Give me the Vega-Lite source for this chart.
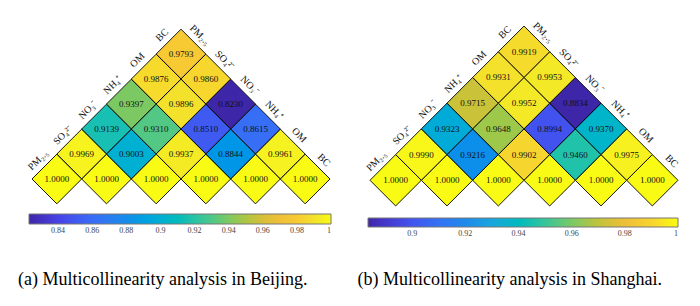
{
  "$schema": "https://vega.github.io/schema/vega-lite/v6.json",
  "padding": {"left": 18, "top": 20, "right": 0, "bottom": 0},
  "config": {"view": {"stroke": null}, "font": "Liberation Serif"},
  "datasets": {
    "corr": [
      {"city": "Beijing", "v1": "PM2.5", "v2": "PM2.5", "r": 1.0},
      {"city": "Beijing", "v1": "SO4", "v2": "SO4", "r": 1.0},
      {"city": "Beijing", "v1": "NO3", "v2": "NO3", "r": 1.0},
      {"city": "Beijing", "v1": "NH4", "v2": "NH4", "r": 1.0},
      {"city": "Beijing", "v1": "OM", "v2": "OM", "r": 1.0},
      {"city": "Beijing", "v1": "BC", "v2": "BC", "r": 1.0},
      {"city": "Beijing", "v1": "PM2.5", "v2": "SO4", "r": 0.9969},
      {"city": "Beijing", "v1": "SO4", "v2": "NO3", "r": 0.9003},
      {"city": "Beijing", "v1": "NO3", "v2": "NH4", "r": 0.9937},
      {"city": "Beijing", "v1": "NH4", "v2": "OM", "r": 0.8844},
      {"city": "Beijing", "v1": "OM", "v2": "BC", "r": 0.9961},
      {"city": "Beijing", "v1": "PM2.5", "v2": "NO3", "r": 0.9139},
      {"city": "Beijing", "v1": "SO4", "v2": "NH4", "r": 0.9310},
      {"city": "Beijing", "v1": "NO3", "v2": "OM", "r": 0.8510},
      {"city": "Beijing", "v1": "NH4", "v2": "BC", "r": 0.8615},
      {"city": "Beijing", "v1": "PM2.5", "v2": "NH4", "r": 0.9397},
      {"city": "Beijing", "v1": "SO4", "v2": "OM", "r": 0.9896},
      {"city": "Beijing", "v1": "NO3", "v2": "BC", "r": 0.8230},
      {"city": "Beijing", "v1": "PM2.5", "v2": "OM", "r": 0.9876},
      {"city": "Beijing", "v1": "SO4", "v2": "BC", "r": 0.9860},
      {"city": "Beijing", "v1": "PM2.5", "v2": "BC", "r": 0.9793},
      {"city": "Shanghai", "v1": "PM2.5", "v2": "PM2.5", "r": 1.0},
      {"city": "Shanghai", "v1": "SO4", "v2": "SO4", "r": 1.0},
      {"city": "Shanghai", "v1": "NO3", "v2": "NO3", "r": 1.0},
      {"city": "Shanghai", "v1": "NH4", "v2": "NH4", "r": 1.0},
      {"city": "Shanghai", "v1": "OM", "v2": "OM", "r": 1.0},
      {"city": "Shanghai", "v1": "BC", "v2": "BC", "r": 1.0},
      {"city": "Shanghai", "v1": "PM2.5", "v2": "SO4", "r": 0.9990},
      {"city": "Shanghai", "v1": "SO4", "v2": "NO3", "r": 0.9216},
      {"city": "Shanghai", "v1": "NO3", "v2": "NH4", "r": 0.9902},
      {"city": "Shanghai", "v1": "NH4", "v2": "OM", "r": 0.9460},
      {"city": "Shanghai", "v1": "OM", "v2": "BC", "r": 0.9975},
      {"city": "Shanghai", "v1": "PM2.5", "v2": "NO3", "r": 0.9323},
      {"city": "Shanghai", "v1": "SO4", "v2": "NH4", "r": 0.9648},
      {"city": "Shanghai", "v1": "NO3", "v2": "OM", "r": 0.8994},
      {"city": "Shanghai", "v1": "NH4", "v2": "BC", "r": 0.9370},
      {"city": "Shanghai", "v1": "PM2.5", "v2": "NH4", "r": 0.9715},
      {"city": "Shanghai", "v1": "SO4", "v2": "OM", "r": 0.9952},
      {"city": "Shanghai", "v1": "NO3", "v2": "BC", "r": 0.8834},
      {"city": "Shanghai", "v1": "PM2.5", "v2": "OM", "r": 0.9931},
      {"city": "Shanghai", "v1": "SO4", "v2": "BC", "r": 0.9953},
      {"city": "Shanghai", "v1": "PM2.5", "v2": "BC", "r": 0.9919}
    ],
    "vars": [
      {"k": 0, "name": "PM₂.₅"},
      {"k": 1, "name": "SO₄²⁻"},
      {"k": 2, "name": "NO₃⁻"},
      {"k": 3, "name": "NH₄⁺"},
      {"k": 4, "name": "OM"},
      {"k": 5, "name": "BC"}
    ]
  },
  "hconcat": [
    {
      "width": 298,
      "height": 178,
      "title": {"text": "(a) Multicollinearity analysis in Beijing.", "orient": "bottom", "anchor": "start", "dx": -8, "offset": 36, "font": "Liberation Serif", "fontSize": 18, "fontWeight": "normal", "color": "#000"},
      "layer": [
        {
          "data": {"name": "corr"},
          "transform": [
            {"filter": "datum.city === 'Beijing'"},
            {"calculate": "indexof(['PM2.5','SO4','NO3','NH4','OM','BC'], datum.v1)", "as": "i"},
            {"calculate": "indexof(['PM2.5','SO4','NO3','NH4','OM','BC'], datum.v2)", "as": "j"},
            {"calculate": "(datum.i + datum.j) / 2", "as": "px"},
            {"calculate": "datum.j - datum.i", "as": "py"}
          ],
          "layer": [
            {
              "mark": {"type": "point", "shape": "diamond", "filled": true, "size": 2467, "stroke": "#000", "strokeWidth": 0.9, "opacity": 1, "strokeOpacity": 1, "fillOpacity": 1},
              "encoding": {
                "x": {"field": "px", "type": "quantitative", "scale": {"domain": [-0.5, 5.5]}, "axis": null},
                "y": {"field": "py", "type": "quantitative", "scale": {"domain": [-1, 6.12]}, "axis": null},
                "color": {
                  "field": "r", "type": "quantitative",
                  "scale": {
                    "domain": [0.823, 0.8407, 0.8584, 0.8761, 0.8938, 0.9115, 0.9292, 0.9469, 0.9646, 0.9823, 0.99115, 1.0],
                    "range": ["#3e26a8", "#4743e8", "#3d69f6", "#2c85ec", "#18a6dd", "#18bdb8", "#4bc78b", "#a0c848", "#eaba3a", "#f9cd32", "#f2e52a", "#f9fb14"]
                  },
                  "legend": {"orient": "none", "legendX": -3, "legendY": 188, "direction": "horizontal", "gradientLength": 302, "gradientThickness": 10, "title": null, "values": [0.84, 0.86, 0.88, 0.9, 0.92, 0.94, 0.96, 0.98, 1], "format": ".2~f", "labelFont": "Liberation Serif", "labelFontSize": 8, "labelColor": "#444", "labelAlign": "center", "labelOffset": 3, "gradientStrokeColor": "#777", "gradientStrokeWidth": 1, "padding": 0}
                }
              }
            },
            {
              "mark": {"type": "text", "font": "Liberation Serif", "fontSize": 9, "color": "#111"},
              "encoding": {
                "x": {"field": "px", "type": "quantitative", "scale": {"domain": [-0.5, 5.5]}, "axis": null},
                "y": {"field": "py", "type": "quantitative", "scale": {"domain": [-1, 6.12]}, "axis": null},
                "text": {"field": "r", "type": "quantitative", "format": ".4f"}
              }
            }
          ]
        },
        {
          "data": {"name": "vars"},
          "transform": [
            {"calculate": "datum.k / 2 - 0.25", "as": "lx"},
            {"calculate": "datum.k + 0.5", "as": "ly"}
          ],
          "mark": {"type": "text", "angle": -45, "align": "center", "baseline": "middle", "dy": -9, "font": "Liberation Serif", "fontSize": 10, "color": "#111"},
          "encoding": {
            "x": {"field": "lx", "type": "quantitative", "scale": {"domain": [-0.5, 5.5]}, "axis": null},
            "y": {"field": "ly", "type": "quantitative", "scale": {"domain": [-1, 6.12]}, "axis": null},
            "text": {"field": "name", "type": "nominal"}
          }
        },
        {
          "data": {"name": "vars"},
          "transform": [
            {"calculate": "(datum.k + 5) / 2 + 0.25", "as": "rx"},
            {"calculate": "5 - datum.k + 0.5", "as": "ry"}
          ],
          "mark": {"type": "text", "angle": 45, "align": "center", "baseline": "middle", "dy": -9, "font": "Liberation Serif", "fontSize": 10, "color": "#111"},
          "encoding": {
            "x": {"field": "rx", "type": "quantitative", "scale": {"domain": [-0.5, 5.5]}, "axis": null},
            "y": {"field": "ry", "type": "quantitative", "scale": {"domain": [-1, 6.12]}, "axis": null},
            "text": {"field": "name", "type": "nominal"}
          }
        }
      ]
    },
    {
      "width": 308,
      "height": 180,
      "title": {"text": "(b) Multicollinearity analysis in Shanghai.", "orient": "bottom", "anchor": "start", "dx": -7, "offset": 33, "font": "Liberation Serif", "fontSize": 18, "fontWeight": "normal", "color": "#000"},
      "layer": [
        {
          "data": {"name": "corr"},
          "transform": [
            {"filter": "datum.city === 'Shanghai'"},
            {"calculate": "indexof(['PM2.5','SO4','NO3','NH4','OM','BC'], datum.v1)", "as": "i"},
            {"calculate": "indexof(['PM2.5','SO4','NO3','NH4','OM','BC'], datum.v2)", "as": "j"},
            {"calculate": "(datum.i + datum.j) / 2", "as": "px"},
            {"calculate": "datum.j - datum.i", "as": "py"}
          ],
          "layer": [
            {
              "mark": {"type": "point", "shape": "diamond", "filled": true, "size": 2635, "stroke": "#000", "strokeWidth": 0.9, "opacity": 1, "strokeOpacity": 1, "fillOpacity": 1},
              "encoding": {
                "x": {"field": "px", "type": "quantitative", "scale": {"domain": [-0.5, 5.5]}, "axis": null},
                "y": {"field": "py", "type": "quantitative", "scale": {"domain": [-1, 6]}, "axis": null},
                "color": {
                  "field": "r", "type": "quantitative",
                  "scale": {
                    "domain": [0.8834, 0.89506, 0.90672, 0.91838, 0.93004, 0.9417, 0.95336, 0.96502, 0.97668, 0.98834, 0.99417, 1.0],
                    "range": ["#3e26a8", "#4743e8", "#3d69f6", "#2c85ec", "#18a6dd", "#18bdb8", "#4bc78b", "#a0c848", "#eaba3a", "#f9cd32", "#f2e52a", "#f9fb14"]
                  },
                  "legend": {"orient": "none", "legendX": -2, "legendY": 192, "direction": "horizontal", "gradientLength": 310, "gradientThickness": 9, "title": null, "values": [0.9, 0.92, 0.94, 0.96, 0.98, 1], "format": ".2~f", "labelFont": "Liberation Serif", "labelFontSize": 8, "labelColor": "#444", "labelAlign": "center", "labelOffset": 3, "gradientStrokeColor": "#777", "gradientStrokeWidth": 1, "padding": 0}
                }
              }
            },
            {
              "mark": {"type": "text", "font": "Liberation Serif", "fontSize": 9, "color": "#111"},
              "encoding": {
                "x": {"field": "px", "type": "quantitative", "scale": {"domain": [-0.5, 5.5]}, "axis": null},
                "y": {"field": "py", "type": "quantitative", "scale": {"domain": [-1, 6]}, "axis": null},
                "text": {"field": "r", "type": "quantitative", "format": ".4f"}
              }
            }
          ]
        },
        {
          "data": {"name": "vars"},
          "transform": [
            {"calculate": "datum.k / 2 - 0.25", "as": "lx"},
            {"calculate": "datum.k + 0.5", "as": "ly"}
          ],
          "mark": {"type": "text", "angle": -45, "align": "center", "baseline": "middle", "dy": -9, "font": "Liberation Serif", "fontSize": 10, "color": "#111"},
          "encoding": {
            "x": {"field": "lx", "type": "quantitative", "scale": {"domain": [-0.5, 5.5]}, "axis": null},
            "y": {"field": "ly", "type": "quantitative", "scale": {"domain": [-1, 6]}, "axis": null},
            "text": {"field": "name", "type": "nominal"}
          }
        },
        {
          "data": {"name": "vars"},
          "transform": [
            {"calculate": "(datum.k + 5) / 2 + 0.25", "as": "rx"},
            {"calculate": "5 - datum.k + 0.5", "as": "ry"}
          ],
          "mark": {"type": "text", "angle": 45, "align": "center", "baseline": "middle", "dy": -9, "font": "Liberation Serif", "fontSize": 10, "color": "#111"},
          "encoding": {
            "x": {"field": "rx", "type": "quantitative", "scale": {"domain": [-0.5, 5.5]}, "axis": null},
            "y": {"field": "ry", "type": "quantitative", "scale": {"domain": [-1, 6]}, "axis": null},
            "text": {"field": "name", "type": "nominal"}
          }
        }
      ]
    }
  ],
  "spacing": 40,
  "bounds": "flush",
  "resolve": {"scale": {"color": "independent"}, "legend": {"color": "independent"}}
}
